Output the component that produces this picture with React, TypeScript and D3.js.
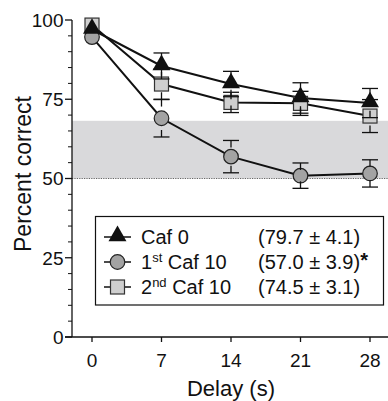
import React from "react";
import * as d3 from "d3";

const width = 388;
const height = 401;
const margin = { top: 20, right: 0, bottom: 63, left: 72 };

const delays = [0, 7, 14, 21, 28];
const yTicks = [0, 25, 50, 75, 100];
const caf0 = [97, 85.5, 79.8, 75.4, 73.8];
const caf0Err = [1.5, 4.1, 4.0, 4.8, 4.6];
const first10 = [94.6, 69, 56.9, 50.9, 51.6];
const first10Err = [1.2, 5.9, 5.1, 4.0, 4.3];
const second10 = [98.4, 79.8, 74, 73.7, 69.7];
const second10Err = [1.5, 4.8, 3.2, 3.8, 5.2];
const band = [50, 68.2];

const legendNames = ["Caf 0", "1st Caf 10", "2nd Caf 10"];
const legendStats = ["(79.7 ± 4.1)", "(57.0 ± 3.9)", "(74.5 ± 3.1)"];

const font = "'Liberation Sans', Arial, Helvetica, sans-serif";

export default function App() {
  const x = d3.scaleLinear().domain([0, 28]).range([92, 370]);
  const y = d3.scaleLinear().domain([0, 100]).range([height - margin.bottom - 1, margin.top]);
  const line = d3.line<number>().x((_, i) => x(delays[i])).y(d => y(d));
  const tri = d3.symbol().type(d3.symbolTriangle).size(140)();

  const minor = d3.range(0, 101, 5).filter(v => v % 25 !== 0);

  const series = [
    { vals: first10, err: first10Err, kind: "circle" },
    { vals: second10, err: second10Err, kind: "square" },
    { vals: caf0, err: caf0Err, kind: "triangle" },
  ];

  const marker = (kind: string, cx: number, cy: number, key?: any) => {
    if (kind === "circle")
      return <circle key={key} cx={cx} cy={cy} r={7.3} fill="#a3a3a3" stroke="#222" strokeWidth={1.2} />;
    if (kind === "square")
      return <rect key={key} x={cx - 7} y={cy - 7} width={14} height={14} fill="#cfcfcf" stroke="#333" strokeWidth={1.2} />;
    return <path key={key} d={tri} transform={`translate(${cx},${cy - 1})`} fill="#111" />;
  };

  const legendY = [237, 262, 287];
  const legendKinds = ["triangle", "circle", "square"];

  return (
    <svg width={width} height={height} style={{ position: "absolute", left: 0, top: 0 }} fontFamily={font}>
      <rect x={margin.left} y={y(band[1])} width={width - margin.left} height={y(band[0]) - y(band[1])} fill="#d9d9db" />
      <line x1={margin.left} x2={width} y1={y(50)} y2={y(50)} stroke="#666" strokeWidth={1.2} strokeDasharray="1.2,1.2" />

      {/* y axis */}
      <line x1={margin.left} x2={margin.left} y1={y(100)} y2={y(0)} stroke="#111" strokeWidth={1.3} />
      {yTicks.map(t => (
        <g key={t}>
          <line x1={margin.left - 7} x2={margin.left} y1={y(t)} y2={y(t)} stroke="#111" strokeWidth={1.3} />
          <text x={margin.left - 8.5} y={y(t)} dy="0.36em" textAnchor="end" fontSize={19} fill="#111">{t}</text>
        </g>
      ))}
      {minor.map(t => (
        <line key={t} x1={margin.left - 4} x2={margin.left} y1={y(t)} y2={y(t)} stroke="#111" strokeWidth={1} />
      ))}
      <text transform={`translate(31,174) rotate(-90)`} textAnchor="middle" fontSize={23} fill="#111">Percent correct</text>

      {/* x axis */}
      <line x1={margin.left - 7} x2={width} y1={y(0)} y2={y(0)} stroke="#111" strokeWidth={1.3} />
      {delays.map(d => (
        <g key={d}>
          <line x1={x(d)} x2={x(d)} y1={y(0)} y2={y(0) + 5} stroke="#111" strokeWidth={1.3} />
          <text x={x(d)} y={367} textAnchor="middle" fontSize={19} fill="#111">{d}</text>
        </g>
      ))}
      <text x={x(14)} y={396} textAnchor="middle" fontSize={22} fill="#111">Delay (s)</text>

      {/* lines */}
      {series.map((s, i) => (
        <path key={i} d={line(s.vals) || ""} fill="none" stroke="#111" strokeWidth={2} />
      ))}

      {/* markers + error bars */}
      {series.map((s, i) => (
        <g key={i}>
          {s.vals.map((v, j) => (
            <g key={j}>
              {marker(s.kind, x(delays[j]), y(v))}
              {s.err[j] > 2 && (
                <g stroke="#111" strokeWidth={1.3}>
                  <line x1={x(delays[j])} x2={x(delays[j])} y1={y(v + s.err[j])} y2={y(v + s.err[j]) + 7} />
                  <line x1={x(delays[j])} x2={x(delays[j])} y1={y(v - s.err[j])} y2={y(v - s.err[j]) - 7} />
                  <line x1={x(delays[j]) - 8} x2={x(delays[j]) + 8} y1={y(v + s.err[j])} y2={y(v + s.err[j])} />
                  <line x1={x(delays[j]) - 8} x2={x(delays[j]) + 8} y1={y(v - s.err[j])} y2={y(v - s.err[j])} />
                </g>
              )}
            </g>
          ))}
        </g>
      ))}

      {/* legend */}
      <rect x={95.5} y={216.5} width={288} height={88.5} fill="#fff" stroke="#111" strokeWidth={1.2} />
      {legendNames.map((n, i) => {
        const ly = legendY[i];
        const sup = n.match(/^(\d)(st|nd)(.*)$/);
        return (
          <g key={n}>
            <line x1={104} x2={131} y1={ly} y2={ly} stroke="#111" strokeWidth={1.5} />
            {marker(legendKinds[i], 117.5, ly)}
            <text x={141} y={ly} dy="0.36em" fontSize={20} fill="#111">
              {sup ? (
                <>
                  {sup[1]}
                  <tspan fontSize={13} dy="-7">{sup[2]}</tspan>
                  <tspan dy="7">{sup[3]}</tspan>
                </>
              ) : n}
            </text>
            <text x={258} y={ly} dy="0.36em" fontSize={20} fill="#111">
              {legendStats[i]}
              {i === 1 && <tspan fontWeight="bold" dy="-2">*</tspan>}
            </text>
          </g>
        );
      })}
    </svg>
  );
}
